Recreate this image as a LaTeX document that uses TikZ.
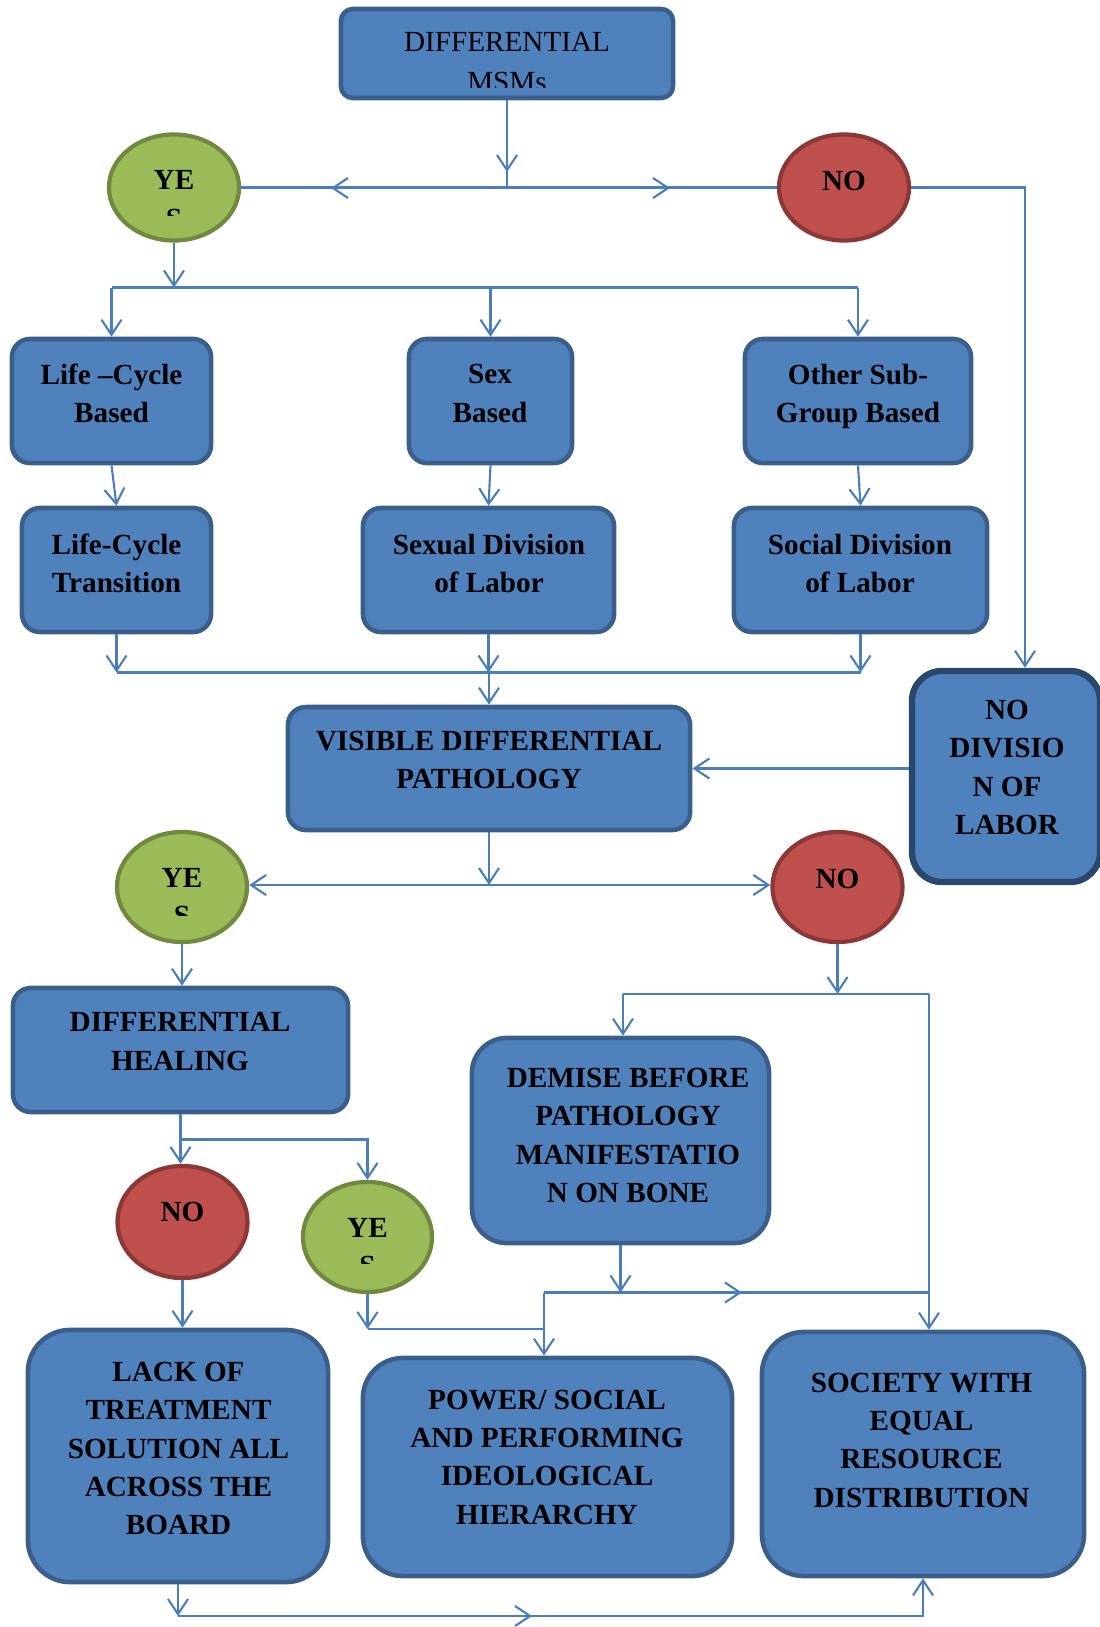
\documentclass[tikz,border=0pt]{standalone}
\usepackage{fontspec}
\setmainfont{Liberation Serif}
\usepackage{xcolor}
\usepackage{tikz}
\usetikzlibrary{arrows.meta, shapes.geometric}

\definecolor{boxblue}{HTML}{4F81BD}
\definecolor{boxedge}{HTML}{3A5F8B}
\definecolor{darkedge}{HTML}{2A486C}
\definecolor{yesgreen}{HTML}{9BBB59}
\definecolor{yesedge}{HTML}{71893F}
\definecolor{nored}{HTML}{C0504D}
\definecolor{noedge}{HTML}{8C3836}
\definecolor{linkblue}{HTML}{4A7EBB}

\begin{document}
\begin{tikzpicture}[x=0.01cm, y=-0.01cm,
  box/.style={draw=boxedge, fill=boxblue, line width=1.3pt, rounded corners=0.18cm, inner sep=0},
  yes/.style={ellipse, draw=yesedge, fill=yesgreen, line width=1.2pt, minimum width=1.30cm, minimum height=1.06cm, inner sep=0},
  no/.style={ellipse, draw=noedge, fill=nored, line width=1.2pt, minimum width=1.30cm, minimum height=1.06cm, inner sep=0},
  txt/.style={align=center, inner sep=0, font=\fontsize{8.3}{10.9}\selectfont\bfseries},
  link/.style={draw=linkblue, line width=0.6pt},
  arr/.style={link, -{Straight Barb[length=4.3pt, width=5.7pt]}}]

\useasboundingbox (0,0) rectangle (1099,1627);

% top of the chart
\node[box, rounded corners=0.12cm, minimum width=3.32cm, minimum height=0.89cm] (top) at (507,53.5) {};
\begin{scope}
\clip (345,12) rectangle (670,87);
\node[txt, font=\fontsize{8.3}{11.2}\selectfont] (top-t) at (507,62) {DIFFERENTIAL\\MSMs};
\end{scope}

\node[yes] (yes1) at (174,187.5) {};
\begin{scope}
\clip (110,140) rectangle (240,215);
\node[txt] (yes1-t) at (174,199.5) {YE\\S};
\end{scope}
\node[no] (no1) at (844,187.5) {};
\node[txt] (no1-t) at (844,180.5) {NO};

% first two rows
\node[box, minimum width=1.99cm, minimum height=1.24cm] (lcb) at (111.5,401) {};
\node[txt] (lcb-t) at (111.5,393.5) {Life –Cycle\\Based};
\node[box, minimum width=1.63cm, minimum height=1.24cm] (sb) at (490.5,401) {};
\node[txt] (sb-t) at (490,393.5) {Sex\\Based};
\node[box, minimum width=2.26cm, minimum height=1.24cm] (osb) at (858,401) {};
\node[txt] (osb-t) at (858,396.5) {Other Sub-\\Group Based};

\node[box, minimum width=1.89cm, minimum height=1.24cm] (lct) at (116.5,570) {};
\node[txt] (lct-t) at (116.5,563.5) {Life-Cycle\\Transition};
\node[box, minimum width=2.51cm, minimum height=1.24cm] (sdl) at (488.5,570) {};
\node[txt] (sdl-t) at (489,563.5) {Sexual Division\\of Labor};
\node[box, minimum width=2.53cm, minimum height=1.24cm] (socdl) at (860.5,570) {};
\node[txt] (socdl-t) at (860,563.5) {Social Division\\of Labor};

\node[box, minimum width=4.02cm, minimum height=1.23cm] (vdp) at (489,768.5) {};
\node[txt] (vdp-t) at (489,760) {VISIBLE DIFFERENTIAL\\PATHOLOGY};
\node[box, draw=darkedge, line width=1.8pt, rounded corners=0.3cm, minimum width=1.88cm, minimum height=2.11cm] (ndl) at (1006,776.5) {};
\node[txt] (ndl-t) at (1007,767.5) {NO\\DIVISIO\\N OF\\LABOR};

% second decision
\node[yes, minimum height=1.10cm] (yes2) at (182,887) {};
\begin{scope}
\clip (120,840) rectangle (245,915);
\node[txt] (yes2-t) at (182,897) {YE\\S};
\end{scope}
\node[no, minimum height=1.10cm] (no2) at (837.5,887) {};
\node[txt] (no2-t) at (837.5,879) {NO};

\node[box, minimum width=3.35cm, minimum height=1.24cm] (dh) at (180.5,1050) {};
\node[txt] (dh-t) at (180,1041.5) {DIFFERENTIAL\\HEALING};
\node[box, rounded corners=0.35cm, minimum width=2.97cm, minimum height=2.05cm] (dem) at (620.5,1140.5) {};
\node[txt] (dem-t) at (628,1135.5) {DEMISE BEFORE\\PATHOLOGY\\MANIFESTATIO\\N ON BONE};

\node[no, minimum height=1.12cm] (no3) at (182.5,1222) {};
\node[txt] (no3-t) at (182.5,1212) {NO};
\node[yes, minimum width=1.29cm, minimum height=1.10cm] (yes3) at (367.5,1237) {};
\begin{scope}
\clip (305,1190) rectangle (430,1263);
\node[txt] (yes3-t) at (367.5,1247) {YE\\S};
\end{scope}

% outcomes
\node[box, rounded corners=0.42cm, minimum width=3.00cm, minimum height=2.52cm] (lack) at (178,1456) {};
\node[txt] (lack-t) at (178.5,1448.5) {LACK OF\\TREATMENT\\SOLUTION ALL\\ACROSS THE\\BOARD};
\node[box, rounded corners=0.4cm, minimum width=3.69cm, minimum height=2.18cm] (pow) at (547.5,1467) {};
\node[txt] (pow-t) at (547,1457) {POWER/ SOCIAL\\AND PERFORMING\\IDEOLOGICAL\\HIERARCHY};
\node[box, rounded corners=0.42cm, minimum width=3.22cm, minimum height=2.44cm] (soc) at (923,1454) {};
\node[txt] (soc-t) at (921.5,1440) {SOCIETY WITH\\EQUAL\\RESOURCE\\DISTRIBUTION};

% junctions
\coordinate (j1) at (507,188);
\coordinate (a1l) at (331,188);
\coordinate (a1r) at (670,188);
\coordinate (a1) at (507,172);
\coordinate (c2) at (1025,187.5);
\coordinate (j3) at (174,287.5);
\coordinate (j5) at (489,672.5);
\coordinate (j7) at (489,885);
\coordinate (j9) at (837.5,994);
\coordinate (j9l) at (623,994);
\coordinate (j9r) at (929,994);
\coordinate (j10) at (620.5,1292.5);
\coordinate (j10l) at (544,1292.5);
\coordinate (a10) at (742,1292.5);
\coordinate (j11) at (180.5,1139.5);
\coordinate (j13) at (367.5,1329);
\coordinate (j14) at (178,1616);
\coordinate (a14) at (532,1616);

% connectors
\draw[link] (top.south) -- (j1);
\draw[arr] (top.south) -- (a1);
\draw[link] (yes1.east) -- (no1.west);
\draw[arr] (j1) -- (a1l);
\draw[arr] (j1) -- (a1r);
\draw[arr] (no1.east) -- (c2) -- (c2 |- ndl.north);

\draw[arr] (yes1.south) -- (j3);
\draw[link] (lcb.north |- j3) -- (osb.north |- j3);
\foreach \n in {lcb, sb, osb}
  \draw[arr] (\n.north |- j3) -- (\n.north);
\draw[arr] (lcb.south) -- (lct.north);
\draw[arr] (sb.south) -- (sdl.north);
\draw[arr] (osb.south) -- (socdl.north);
\foreach \n in {lct, sdl, socdl}
  \draw[arr] (\n.south) -- (\n.south |- j5);
\draw[link] (lct.south |- j5) -- (socdl.south |- j5);
\draw[arr] (j5) -- (vdp.north);
\draw[arr] (ndl.west |- vdp.east) -- (vdp.east);

\draw[arr] (vdp.south) -- (j7);
\draw[arr] (j7) -- (yes2.east |- j7);
\draw[arr] (j7) -- (no2.west |- j7);
\draw[arr] (yes2.south) -- (yes2.south |- dh.north);

\draw[arr] (no2.south) -- (j9);
\draw[link] (j9l) -- (j9r);
\draw[arr] (j9l) -- (j9l |- dem.north);
\draw[arr] (j9r) -- (j9r |- soc.north);
\draw[arr] (dem.south) -- (j10);
\draw[link] (j10l) -- (j9r |- j10);
\draw[arr] (j10l) -- (a10);
\draw[arr] (j10l) -- (j10l |- pow.north);

\draw[arr] (dh.south) -- (dh.south |- no3.north);
\draw[arr] (j11) -| (yes3.north);
\draw[arr] (no3.south) -- (no3.south |- lack.north);
\draw[arr] (yes3.south) -- (j13);
\draw[link] (j13) -- (j10l |- j13);

\draw[arr] (lack.south) -- (j14);
\draw[arr] (j14) -| (soc.south);
\draw[arr] (j14) -- (a14);
\end{tikzpicture}
\end{document}
